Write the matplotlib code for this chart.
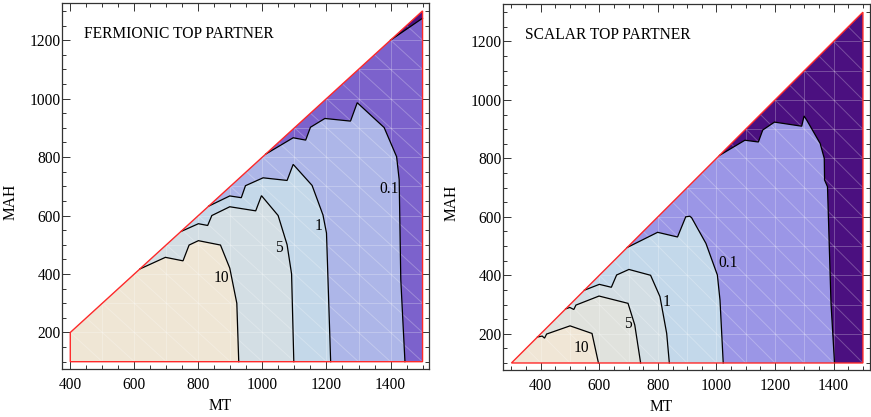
import matplotlib
matplotlib.use("Agg")
import matplotlib.pyplot as plt
from matplotlib.patches import Polygon
from matplotlib.ticker import MultipleLocator

plt.rcParams['font.family'] = ['Liberation Serif', 'DejaVu Serif']

# ---------------- fermionic top partner ----------------
ferm_domain_x = [400, 400, 1500, 1500]
ferm_domain_y = [100, 200, 1300, 100]

ferm_levels = ["0.01", "0.1", "1", "5", "10"]
ferm_c001_x = [1400, 1500]
ferm_c001_y = [1200, 1275]
ferm_c01_x = [1010, 1096, 1135, 1150, 1195, 1275, 1296, 1380, 1419, 1427, 1432, 1445]
ferm_c01_y = [810, 866, 858, 902, 932, 923, 986, 901, 801, 722, 380, 100]
ferm_c1_x = [832, 898, 934, 947, 1002, 1077, 1096, 1155, 1189, 1200, 1213]
ferm_c1_y = [632, 667, 661, 702, 729, 720, 775, 703, 602, 540, 100]
ferm_c5_x = [745, 800, 829, 842, 898, 979, 997, 1049, 1077, 1091, 1098]
ferm_c5_y = [545, 572, 566, 600, 630, 616, 668, 600, 500, 400, 100]
ferm_c10_x = [617, 697, 752, 771, 800, 869, 898, 920, 926]
ferm_c10_y = [417, 457, 445, 499, 514, 499, 420, 300, 100]

ferm_colors = ['#4B1180', '#7C62CC', '#ADB6E8', '#C4D8E9', '#D3DEE4', '#EFE6D5']

ferm_label_text = ["10", "5", "1", "0.1"]
ferm_label_x = [871, 1050, 1176, 1396]
ferm_label_y = [387, 488, 565, 690]

# ---------------- scalar top partner ----------------
scal_domain_x = [300, 1500, 1500]
scal_domain_y = [100, 1300, 100]

scal_c001_x = [1010, 1097, 1143, 1158, 1198, 1291, 1299, 1308, 1354, 1368, 1369, 1379, 1391, 1403]
scal_c001_y = [810, 862, 856, 897, 924, 910, 945, 931, 851, 800, 726, 703, 304, 100]
scal_c01_x = [695, 799, 867, 895, 909, 915, 964, 1003, 1012, 1023]
scal_c01_y = [495, 547, 531, 600, 602, 597, 509, 401, 315, 100]
scal_c1_x = [549, 600, 641, 659, 701, 775, 807, 830, 839]
scal_c1_y = [349, 369, 359, 401, 420, 400, 327, 201, 100]
scal_c5_x = [485, 499, 513, 520, 599, 698, 721, 741]
scal_c5_y = [285, 290, 283, 298, 329, 304, 230, 100]
scal_c10_x = [389, 405, 413, 420, 500, 575, 597]
scal_c10_y = [189, 192, 185, 199, 227, 201, 100]

scal_colors = ['#4B1080', '#9B96E6', '#C3D8EA', '#D3DEE4', '#E0E2DD', '#F0E6D6']

scal_label_text = ["10", "5", "1", "0.1"]
scal_label_x = [539, 696, 831, 1040]
scal_label_y = [152, 233, 307, 441]

FS = 11.2


def draw_panel(ax, dom_x, dom_y, contours, colors, lab_txt, lab_x, lab_y,
               title, xlim, ylim):
    x_right = max(dom_x)
    y_bot = min(dom_y)
    x_left = min(dom_x)
    dom_pts = list(zip(dom_x, dom_y))
    dom = Polygon(dom_pts, closed=True, facecolor=colors[0],
                  edgecolor='none', zorder=1)
    ax.add_patch(dom)

    # corners of the domain that lie on the high-value (lower-left) side
    high_corners = [p for p in dom_pts if p[0] == x_left]

    for (cx, cy), col in zip(contours, colors[1:]):
        pts = list(zip(cx, cy))
        if cx[-1] == x_right:
            pts.append((x_right, y_bot))
        pts += high_corners
        patch = Polygon(pts, closed=True, facecolor=col, edgecolor='none',
                        zorder=2)
        ax.add_patch(patch)
        patch.set_clip_path(dom)

    # faint triangulation mesh
    mesh_kw = dict(color='white', lw=0.7, alpha=0.25, zorder=3)
    for v in range(x_left, x_right + 1, 100):
        ln, = ax.plot([v, v], [0, 1400], **mesh_kw)
        ln.set_clip_path(dom)
    for h in range(100, 1301, 100):
        ln, = ax.plot([0, 1600], [h, h], **mesh_kw)
        ln.set_clip_path(dom)
    for k in range(400, 2900, 100):
        ln, = ax.plot([0, 1600], [k, k - 1600], **mesh_kw)
        ln.set_clip_path(dom)

    for cx, cy in contours:
        ax.plot(cx, cy, color='black', lw=0.9, zorder=4,
                solid_joinstyle='miter')

    ax.add_patch(Polygon(dom_pts, closed=True, fill=False,
                         edgecolor='#FF2A2A', lw=1.0, zorder=5))

    for t, x, y in zip(lab_txt, lab_x, lab_y):
        ax.text(x, y, t, fontsize=FS, ha='center', va='center', zorder=6)

    ax.text(0.058, 0.917, title, transform=ax.transAxes, fontsize=FS,
            ha='left', va='center')

    ax.set_xlim(*xlim)
    ax.set_ylim(*ylim)
    ax.xaxis.set_major_locator(MultipleLocator(200))
    ax.xaxis.set_minor_locator(MultipleLocator(50))
    ax.yaxis.set_major_locator(MultipleLocator(200))
    ax.yaxis.set_minor_locator(MultipleLocator(50))
    ax.tick_params(which='both', direction='in', top=True, right=True,
                   labelsize=FS, color='#333333', width=0.7)
    ax.tick_params(which='major', length=6)
    ax.tick_params(which='minor', length=3)
    ax.tick_params(axis='y', pad=1.0)
    ax.tick_params(axis='x', pad=5.5)
    for s in ax.spines.values():
        s.set_linewidth(0.9)
        s.set_color('#333333')

    ax.set_xlabel('MT', fontsize=FS)
    ax.set_ylabel('MAH', fontsize=FS)
    ax.xaxis.label.set_va('center')
    ax.yaxis.label.set_va('center')
    ax.xaxis.set_label_coords(0.43, -0.102)
    ax.yaxis.set_label_coords(-0.14, 0.457)


fig = plt.figure(figsize=(8.71, 4.17), dpi=100)
ax1 = fig.add_axes([0.0715, 0.1151, 0.421, 0.877])
ax2 = fig.add_axes([0.5778, 0.1127, 0.421, 0.877])

draw_panel(ax1, ferm_domain_x, ferm_domain_y,
           [(ferm_c001_x, ferm_c001_y), (ferm_c01_x, ferm_c01_y),
            (ferm_c1_x, ferm_c1_y), (ferm_c5_x, ferm_c5_y),
            (ferm_c10_x, ferm_c10_y)],
           ferm_colors, ferm_label_text, ferm_label_x, ferm_label_y,
           'FERMIONIC TOP PARTNER', (375, 1520), (75, 1326))

draw_panel(ax2, scal_domain_x, scal_domain_y,
           [(scal_c001_x, scal_c001_y), (scal_c01_x, scal_c01_y),
            (scal_c1_x, scal_c1_y), (scal_c5_x, scal_c5_y),
            (scal_c10_x, scal_c10_y)],
           scal_colors, scal_label_text, scal_label_x, scal_label_y,
           'SCALAR TOP PARTNER', (272, 1524), (76, 1327))

fig.savefig('out.png', dpi=100)
